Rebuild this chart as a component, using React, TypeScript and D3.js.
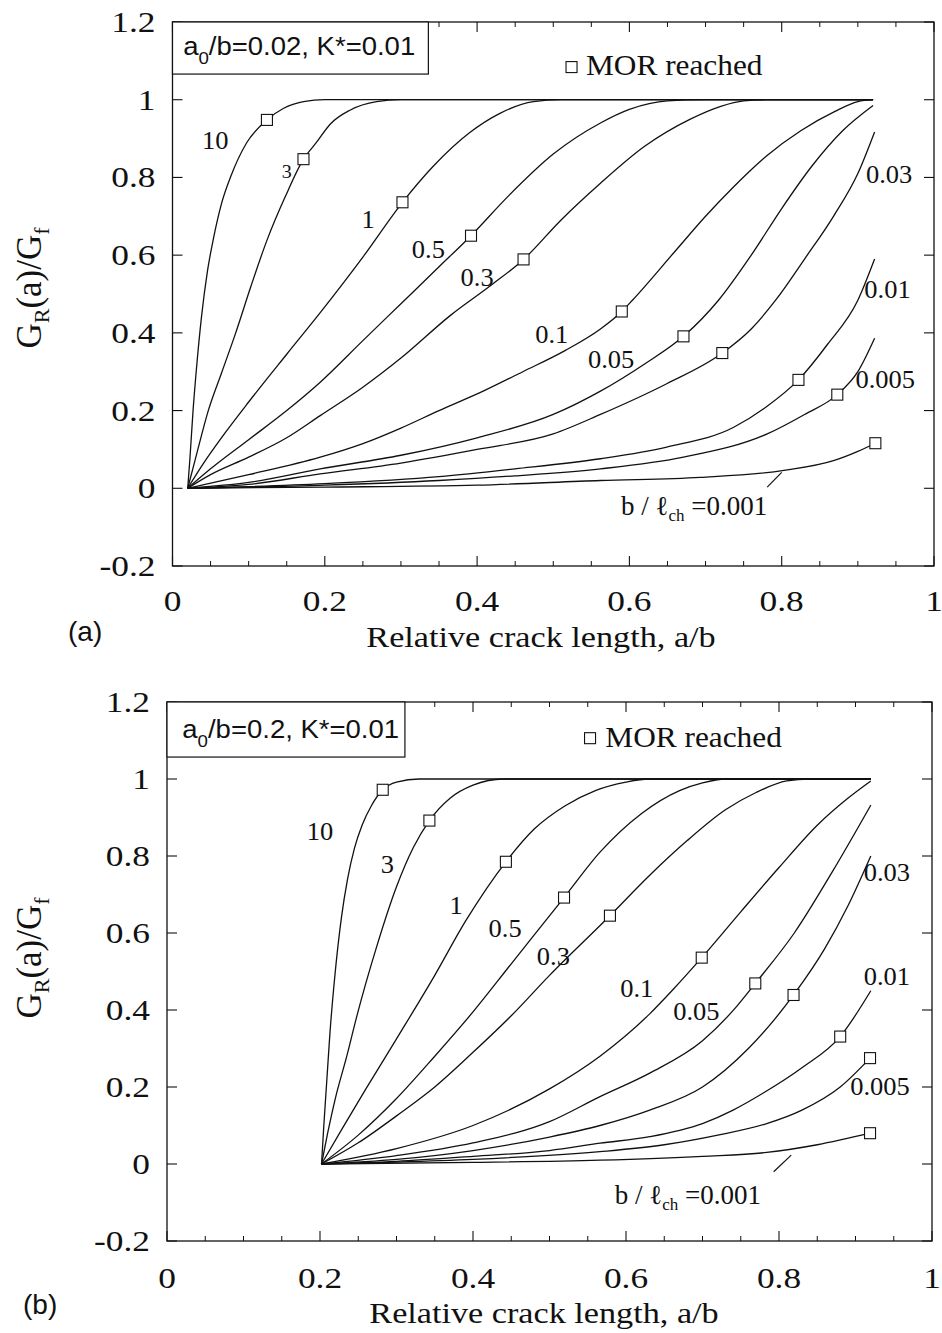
import * as d3 from "d3";

type Pt = [number, number];

const SERIF = "'Liberation Serif', 'Times New Roman', Times, serif";
const SANS = "'Liberation Sans', Arial, Helvetica, sans-serif";

// b / l_ch values, one per curve (same order in both panels)
const curveNames = ["10", "3", "1", "0.5", "0.3", "0.1", "0.05", "0.03", "0.01", "0.005", "0.001"];

const xTickValues = [0, 0.2, 0.4, 0.6, 0.8, 1];
const xMinorValues = [0.05, 0.1, 0.15, 0.25, 0.3, 0.35, 0.45, 0.5, 0.55, 0.65, 0.7, 0.75, 0.85, 0.9, 0.95];
const yTickValues = [-0.2, 0, 0.2, 0.4, 0.6, 0.8, 1, 1.2];

// ---------- panel (a): a0/b = 0.02 ----------
const a10: Pt[] = [[0.02, 0], [0.023, 0.08], [0.027, 0.2], [0.032, 0.32], [0.038, 0.44], [0.046, 0.56], [0.054, 0.645], [0.064, 0.73], [0.077, 0.805], [0.097, 0.888], [0.124, 0.948], [0.146, 0.978], [0.172, 0.995], [0.2, 1], [0.92, 1]];
const a3: Pt[] = [[0.02, 0], [0.03, 0.075], [0.047, 0.2], [0.065, 0.3], [0.083, 0.4], [0.103, 0.52], [0.124, 0.638], [0.148, 0.75], [0.172, 0.847], [0.189, 0.89], [0.207, 0.937], [0.233, 0.973], [0.268, 0.995], [0.3, 1], [0.92, 1]];
const a1: Pt[] = [[0.02, 0], [0.04, 0.062], [0.07, 0.145], [0.1, 0.222], [0.15, 0.345], [0.194, 0.452], [0.25, 0.595], [0.302, 0.736], [0.343, 0.83], [0.39, 0.915], [0.43, 0.965], [0.474, 0.995], [0.51, 1], [0.92, 1]];
const a05: Pt[] = [[0.02, 0], [0.05, 0.05], [0.1, 0.125], [0.15, 0.2], [0.194, 0.273], [0.25, 0.38], [0.3, 0.475], [0.35, 0.57], [0.392, 0.65], [0.44, 0.75], [0.5, 0.86], [0.562, 0.94], [0.6, 0.975], [0.65, 0.997], [0.7, 1], [0.92, 1]];
const a03: Pt[] = [[0.02, 0], [0.05, 0.035], [0.1, 0.08], [0.15, 0.13], [0.194, 0.187], [0.25, 0.26], [0.3, 0.335], [0.365, 0.445], [0.42, 0.525], [0.461, 0.589], [0.51, 0.69], [0.562, 0.785], [0.62, 0.88], [0.68, 0.95], [0.72, 0.983], [0.75, 0.997], [0.78, 1], [0.92, 1]];
const a01: Pt[] = [[0.02, 0], [0.1, 0.035], [0.194, 0.08], [0.25, 0.115], [0.3, 0.155], [0.35, 0.2], [0.408, 0.25], [0.46, 0.3], [0.516, 0.355], [0.562, 0.41], [0.59, 0.455], [0.604, 0.484], [0.66, 0.61], [0.7, 0.7], [0.737, 0.776], [0.78, 0.855], [0.825, 0.92], [0.87, 0.97], [0.9, 0.995], [0.92, 1]];
const a005: Pt[] = [[0.02, 0], [0.1, 0.015], [0.194, 0.05], [0.3, 0.085], [0.4, 0.13], [0.5, 0.19], [0.562, 0.25], [0.62, 0.32], [0.671, 0.391], [0.717, 0.484], [0.76, 0.6], [0.8, 0.72], [0.84, 0.83], [0.88, 0.92], [0.92, 0.985]];
const a003: Pt[] = [[0.02, 0], [0.1, 0.01], [0.194, 0.037], [0.3, 0.065], [0.4, 0.1], [0.5, 0.14], [0.562, 0.19], [0.649, 0.269], [0.722, 0.348], [0.76, 0.41], [0.792, 0.484], [0.83, 0.59], [0.868, 0.7], [0.9, 0.81], [0.922, 0.917]];
const a001: Pt[] = [[0.02, 0], [0.2, 0.012], [0.35, 0.03], [0.45, 0.05], [0.562, 0.076], [0.649, 0.106], [0.737, 0.157], [0.78, 0.21], [0.822, 0.279], [0.86, 0.37], [0.9, 0.484], [0.922, 0.59]];
const a0005: Pt[] = [[0.02, 0], [0.2, 0.008], [0.35, 0.02], [0.45, 0.032], [0.562, 0.05], [0.671, 0.08], [0.781, 0.14], [0.83, 0.19], [0.873, 0.241], [0.9, 0.3], [0.922, 0.386]];
const a0001: Pt[] = [[0.02, 0], [0.2, 0.003], [0.4, 0.008], [0.562, 0.02], [0.693, 0.028], [0.803, 0.046], [0.868, 0.071], [0.9, 0.095], [0.923, 0.116]];
const morA: Pt[] = [[0.124, 0.948], [0.172, 0.847], [0.302, 0.736], [0.392, 0.65], [0.461, 0.589], [0.59, 0.455], [0.671, 0.391], [0.722, 0.348], [0.822, 0.279], [0.873, 0.241], [0.923, 0.116]];

// ---------- panel (b): a0/b = 0.2 ----------
const b10: Pt[] = [[0.202, 0], [0.205, 0.1], [0.209, 0.22], [0.213, 0.34], [0.219, 0.48], [0.228, 0.64], [0.236, 0.74], [0.245, 0.82], [0.255, 0.88], [0.267, 0.93], [0.282, 0.972], [0.3, 0.992], [0.33, 1], [0.92, 1]];
const b3: Pt[] = [[0.202, 0], [0.21, 0.08], [0.22, 0.17], [0.235, 0.28], [0.248, 0.383], [0.274, 0.564], [0.3, 0.72], [0.322, 0.822], [0.343, 0.892], [0.37, 0.95], [0.4, 0.984], [0.44, 1], [0.92, 1]];
const b1: Pt[] = [[0.202, 0], [0.23, 0.095], [0.26, 0.195], [0.3, 0.325], [0.35, 0.49], [0.39, 0.63], [0.443, 0.785], [0.48, 0.87], [0.52, 0.93], [0.56, 0.97], [0.6, 0.992], [0.63, 1], [0.92, 1]];
const b05: Pt[] = [[0.202, 0], [0.25, 0.075], [0.3, 0.17], [0.35, 0.28], [0.4, 0.395], [0.45, 0.52], [0.519, 0.692], [0.566, 0.81], [0.62, 0.91], [0.67, 0.97], [0.7, 0.99], [0.73, 1], [0.92, 1]];
const b03: Pt[] = [[0.202, 0], [0.25, 0.055], [0.3, 0.125], [0.35, 0.2], [0.4, 0.29], [0.45, 0.385], [0.5, 0.49], [0.579, 0.645], [0.631, 0.75], [0.68, 0.84], [0.73, 0.92], [0.77, 0.965], [0.81, 0.995], [0.84, 1], [0.92, 1]];
const b01: Pt[] = [[0.202, 0], [0.3, 0.04], [0.4, 0.1], [0.5, 0.195], [0.566, 0.28], [0.631, 0.39], [0.66, 0.45], [0.699, 0.536], [0.75, 0.655], [0.8, 0.77], [0.85, 0.88], [0.89, 0.95], [0.92, 0.995]];
const b005: Pt[] = [[0.202, 0], [0.3, 0.022], [0.4, 0.055], [0.5, 0.11], [0.566, 0.175], [0.631, 0.236], [0.7, 0.32], [0.745, 0.41], [0.769, 0.469], [0.82, 0.6], [0.87, 0.76], [0.92, 0.932]];
const b003: Pt[] = [[0.202, 0], [0.3, 0.012], [0.4, 0.035], [0.5, 0.07], [0.566, 0.1], [0.631, 0.14], [0.7, 0.2], [0.76, 0.3], [0.819, 0.439], [0.86, 0.56], [0.89, 0.67], [0.92, 0.8]];
const b001: Pt[] = [[0.202, 0], [0.3, 0.007], [0.4, 0.02], [0.5, 0.035], [0.566, 0.054], [0.631, 0.071], [0.7, 0.105], [0.74, 0.14], [0.78, 0.185], [0.83, 0.25], [0.88, 0.331], [0.92, 0.45]];
const b0005: Pt[] = [[0.202, 0], [0.3, 0.005], [0.4, 0.012], [0.566, 0.032], [0.65, 0.05], [0.72, 0.075], [0.784, 0.105], [0.83, 0.14], [0.88, 0.2], [0.919, 0.275]];
const b0001: Pt[] = [[0.202, 0], [0.4, 0.004], [0.566, 0.01], [0.7, 0.02], [0.784, 0.03], [0.85, 0.05], [0.919, 0.08]];
const morB: Pt[] = [[0.282, 0.972], [0.343, 0.892], [0.443, 0.785], [0.519, 0.692], [0.579, 0.645], [0.699, 0.536], [0.769, 0.469], [0.819, 0.439], [0.88, 0.331], [0.919, 0.275], [0.919, 0.08]];

type PanelCfg = {
  tag: string;
  a0: string;
  curves: Pt[][];
  mor: Pt[];
  left: number; right: number; top: number; bottom: number;
  labelAt: Pt[]; // centre of each curve label (data units), last = 0.001 label
  leader: Pt[];
  boxRight: number; boxBottom: number; boxTextX: number; boxTextY: number;
  morKey: Pt; morTextX: number; morTextY: number;
  tickBase: number; titleBase: number; titleX: number;
  yTitleX: number; yTitleY: number;
  tagX: number; tagY: number;
};

const panels: PanelCfg[] = [
  {
    tag: "(a)", a0: "0.02",
    curves: [a10, a3, a1, a05, a03, a01, a005, a003, a001, a0005, a0001],
    mor: morA,
    left: 172.5, right: 934, top: 22, bottom: 566,
    labelAt: [[0.056, 0.894], [0.15, 0.819], [0.257, 0.69], [0.336, 0.613], [0.4, 0.54], [0.498, 0.394], [0.576, 0.329], [0.941, 0.806], [0.939, 0.51], [0.936, 0.278], [0.685, -0.045]],
    leader: [[0.8, 0.041], [0.781, 0.003]],
    boxRight: 0.336, boxBottom: 1.066, boxTextX: 0.014, boxTextY: 1.115,
    morKey: [0.524, 1.084], morTextX: 0.543, morTextY: 1.064,
    tickBase: 611, titleBase: 647, titleX: 541,
    yTitleX: 41, yTitleY: 288,
    tagX: 68, tagY: 641,
  },
  {
    tag: "(b)", a0: "0.2",
    curves: [b10, b3, b1, b05, b03, b01, b005, b003, b001, b0005, b0001],
    mor: morB,
    left: 167, right: 932, top: 702, bottom: 1241,
    labelAt: [[0.2, 0.863], [0.288, 0.777], [0.378, 0.67], [0.442, 0.611], [0.505, 0.538], [0.614, 0.455], [0.692, 0.395], [0.941, 0.755], [0.941, 0.487], [0.932, 0.199], [0.681, -0.08]],
    leader: [[0.816, 0.023], [0.793, -0.02]],
    boxRight: 0.311, boxBottom: 1.057, boxTextX: 0.02, boxTextY: 1.106,
    morKey: [0.553, 1.106], morTextX: 0.573, morTextY: 1.083,
    tickBase: 1288, titleBase: 1323, titleX: 544,
    yTitleX: 41, yTitleY: 958,
    tagX: 23, tagY: 1314,
  },
];

// text stretched horizontally around its anchor point
function SText({ x, y, sx, size, family, anchor, children }:
  { x: number; y: number; sx: number; size: number; family: string; anchor?: string; children: any }) {
  return (
    <text transform={`translate(${x},${y}) scale(${sx},1)`} textAnchor={anchor || "start"}
      fontFamily={family} fontSize={size} fill="#111">{children}</text>
  );
}

function Panel({ cfg }: { cfg: PanelCfg }) {
  const x = d3.scaleLinear().domain([0, 1]).range([cfg.left, cfg.right]);
  const y = d3.scaleLinear().domain([-0.2, 1.2]).range([cfg.bottom, cfg.top]);
  const line = d3.line<Pt>().x(d => x(d[0])).y(d => y(d[1])).curve(d3.curveMonotoneX);
  const sq = 11;

  return (
    <g>
      {/* frame */}
      <rect x={cfg.left} y={cfg.top} width={cfg.right - cfg.left} height={cfg.bottom - cfg.top}
        fill="none" stroke="#111" strokeWidth={1.3} />

      {/* ticks */}
      {yTickValues.map(v => (
        <g key={"yt" + v}>
          <line x1={x(0)} x2={x(0) + 10} y1={y(v)} y2={y(v)} stroke="#111" strokeWidth={1.1} />
          <line x1={x(1)} x2={x(1) - 10} y1={y(v)} y2={y(v)} stroke="#111" strokeWidth={1.1} />
          <SText x={cfg.left - 17} y={y(v) + 10} sx={1.22} anchor="end" family={SERIF} size={29}>{String(v)}</SText>
        </g>
      ))}
      {xTickValues.map(v => (
        <g key={"xt" + v}>
          <line x1={x(v)} x2={x(v)} y1={cfg.bottom} y2={cfg.bottom - 10} stroke="#111" strokeWidth={1.1} />
          <line x1={x(v)} x2={x(v)} y1={cfg.top} y2={cfg.top + 10} stroke="#111" strokeWidth={1.1} />
          <SText x={x(v)} y={cfg.tickBase} sx={1.22} anchor="middle" family={SERIF} size={29}>{String(v)}</SText>
        </g>
      ))}
      {xMinorValues.map(v => (
        <g key={"xm" + v}>
          <line x1={x(v)} x2={x(v)} y1={cfg.bottom} y2={cfg.bottom - 5} stroke="#111" strokeWidth={1} />
          <line x1={x(v)} x2={x(v)} y1={cfg.top} y2={cfg.top + 5} stroke="#111" strokeWidth={1} />
        </g>
      ))}

      {/* curves */}
      {cfg.curves.map((c, i) => (
        <path key={"c" + i} d={line(c) || ""} fill="none" stroke="#111" strokeWidth={1.3} />
      ))}

      {/* MOR markers */}
      {cfg.mor.map((p, i) => (
        <rect key={"m" + i} x={x(p[0]) - sq / 2} y={y(p[1]) - sq / 2} width={sq} height={sq}
          fill="#fff" stroke="#111" strokeWidth={1.1} />
      ))}

      {/* curve labels */}
      {curveNames.slice(0, 10).map((n, i) => (
        <SText key={"l" + i} x={x(cfg.labelAt[i][0])} y={y(cfg.labelAt[i][1]) + 8} sx={1.06}
          anchor="middle" family={SERIF}
          size={cfg.tag === "(a)" && n === "3" ? 19 : 25}>{n}</SText>
      ))}
      <text x={x(cfg.labelAt[10][0])} y={y(cfg.labelAt[10][1]) + 9} textAnchor="middle"
        fontFamily={SERIF} fontSize={27} fill="#111">
        b / ℓ<tspan dy={6} fontSize={17}>ch</tspan><tspan dy={-6}> =0.001</tspan>
      </text>
      <line x1={x(cfg.leader[0][0])} y1={y(cfg.leader[0][1])} x2={x(cfg.leader[1][0])} y2={y(cfg.leader[1][1])}
        stroke="#111" strokeWidth={1.2} />

      {/* parameter box */}
      <rect x={x(0)} y={y(1.2)} width={x(cfg.boxRight) - x(0)} height={y(cfg.boxBottom) - y(1.2)}
        fill="#fff" stroke="#111" strokeWidth={1.2} />
      <SText x={x(cfg.boxTextX)} y={y(cfg.boxTextY)} sx={1.1} family={SANS} size={25}>
        a<tspan dy={9} fontSize={17}>0</tspan><tspan dy={-9}>/b={cfg.a0}, K*=0.01</tspan>
      </SText>

      {/* MOR legend */}
      <rect x={x(cfg.morKey[0]) - sq / 2} y={y(cfg.morKey[1]) - sq / 2} width={sq} height={sq}
        fill="#fff" stroke="#111" strokeWidth={1.1} />
      <SText x={x(cfg.morTextX)} y={y(cfg.morTextY)} sx={1.08} family={SERIF} size={29}>MOR reached</SText>

      {/* axis titles */}
      <SText x={cfg.titleX} y={cfg.titleBase} sx={1.14} anchor="middle" family={SERIF} size={30}>
        Relative crack length, a/b
      </SText>
      <text transform={`translate(${cfg.yTitleX},${cfg.yTitleY}) rotate(-90)`} textAnchor="middle"
        fontFamily={SERIF} fontSize={35} fill="#111">
        G<tspan dy={8} fontSize={22}>R</tspan><tspan dy={-8}>(a)/G</tspan><tspan dy={8} fontSize={22}>f</tspan>
      </text>
      <text x={cfg.tagX} y={cfg.tagY} fontFamily={SANS} fontSize={28} fill="#111">{cfg.tag}</text>
    </g>
  );
}

export default function App() {
  return (
    <svg width={942} height={1333} viewBox="0 0 942 1333"
      style={{ position: "absolute", left: 0, top: 0, background: "#fff" }}>
      <rect width={942} height={1333} fill="#fff" />
      {panels.map(p => <Panel key={p.tag} cfg={p} />)}
    </svg>
  );
}
